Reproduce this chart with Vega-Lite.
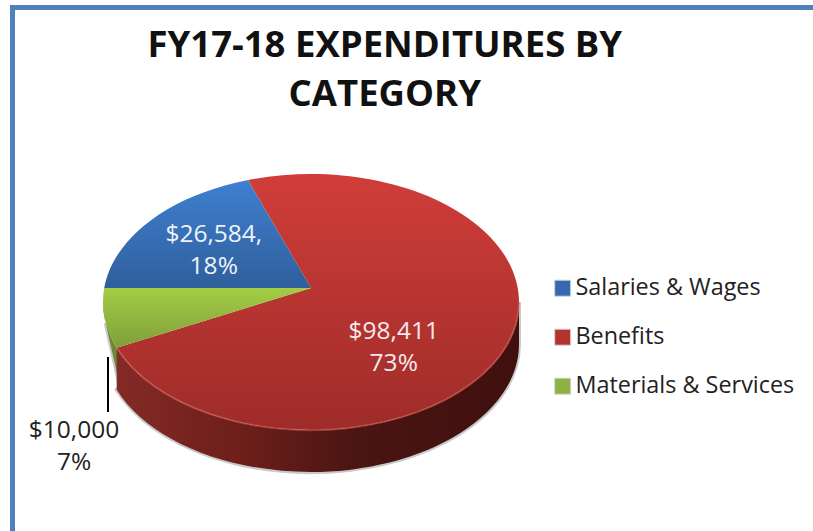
{
"$schema":"https://vega.github.io/schema/vega-lite/v6.json",
"width":800.5,"height":523.5,
"autosize":{"type":"none"},
"padding":{"left":12.5,"top":7.5,"right":0,"bottom":0},
"background":"white",
"config":{"view":{"stroke":null},"font":"Open Sans"},
"title":{"text":["FY17-18 EXPENDITURES BY","CATEGORY"],"anchor":"middle","dx":-28,"dy":114,"font":"Open Sans","fontSize":36.5,"fontWeight":"bold","color":"#111111","lineHeight":49},
"data":{"values":[
{"category":"Salaries & Wages","value":26584,"pct":18,"label":"$26,584,\n18%"},
{"category":"Benefits","value":98411,"pct":73,"label":"$98,411\n73%"},
{"category":"Materials & Services","value":10000,"pct":7,"label":"$10,000\n7%"}
]},
"layer":[
{"mark":{"type":"rule","stroke":"#4f81bd","strokeWidth":5,"strokeCap":"square"},"encoding":{"x":{"value":0}}},
{"mark":{"type":"rule","stroke":"#4f81bd","strokeWidth":5,"strokeCap":"square"},"encoding":{"y":{"value":0}}},
{"transform":[{"filter":"datum.category==='Benefits'"}],
 "mark":{"type":"point","size":4,"filled":false,"opacity":0.35,"stroke":"#666666","strokeWidth":4,"xOffset":-101.75,"yOffset":18.75,
 "shape":"M-205.3,35 L-191,99 L-194.3,101.7 A208,128 0 0 0 208,56 L208,14"}},
{"transform":[{"filter":"datum.category==='Materials & Services'"}],
 "mark":{"type":"point","size":4,"filled":true,"opacity":1,"strokeWidth":0,"xOffset":-101.75,"yOffset":18.75,
 "fill":{"gradient":"linear","x1":0,"y1":0,"x2":1,"y2":1,"stops":[{"offset":0,"color":"#6b7f3a"},{"offset":1,"color":"#6f8f2c"}]},
 "shape":"M-208,14 A208,128 0 0 0 -194.3,59.7 L-191,99 L-205.3,35 Z"}},
{"transform":[{"filter":"datum.category==='Benefits'"}],
 "mark":{"type":"point","size":4,"filled":true,"opacity":1,"strokeWidth":0,"xOffset":-101.75,"yOffset":18.75,
 "fill":{"gradient":"linear","x1":0,"y1":0,"x2":1,"y2":0,"stops":[{"offset":0,"color":"#842a26"},{"offset":0.3,"color":"#6e1f1b"},{"offset":0.6,"color":"#4a1512"},{"offset":1,"color":"#3f100e"}]},
 "shape":"M-194.3,59.7 A208,128 0 0 0 208,14 L208,56 A208,128 0 0 1 -194.3,101.7 Z"}},
{"mark":{"type":"point","size":0,"filled":true,"shape":"square","opacity":0,"strokeWidth":0},
 "encoding":{
  "color":{"field":"category","type":"nominal","title":null,
   "scale":{"domain":["Salaries & Wages","Benefits","Materials & Services"],"range":["#3568ae","#b5332f","#8eb23f"]},
   "legend":{"orient":"none","legendX":538.5,"legendY":269,"symbolType":"square","symbolSize":256,"symbolStrokeWidth":1,"symbolStrokeColor":"#cfd6dd","symbolOpacity":1,"labelFont":"Open Sans","labelFontSize":23.4,"labelColor":"#222222","labelLimit":300,"labelOffset":1,"rowPadding":24,"title":null}}
 }},
{"transform":[{"filter":"datum.category==='Salaries & Wages'"}],
 "mark":{"type":"point","size":4,"filled":true,"opacity":1,"strokeWidth":0,"xOffset":-101.75,"yOffset":18.75,
 "fill":{"gradient":"linear","x1":0,"y1":0,"x2":0,"y2":1,"stops":[{"offset":0,"color":"#3f80d0"},{"offset":1,"color":"#2f5f9c"}]},
 "shape":"M0,0 L-206.8,0 A208,128 0 0 1 -63,-108 Z"}},
{"transform":[{"filter":"datum.category==='Benefits'"}],
 "mark":{"type":"point","size":4,"filled":true,"opacity":1,"strokeWidth":0,"xOffset":-101.75,"yOffset":18.75,
 "fill":{"gradient":"linear","x1":0,"y1":0,"x2":0,"y2":1,"stops":[{"offset":0,"color":"#d03d39"},{"offset":1,"color":"#9e2c29"}]},
 "shape":"M0,0 L-63,-108 A208,128 0 1 1 -194.3,59.7 Z"}},
{"transform":[{"filter":"datum.category==='Materials & Services'"}],
 "mark":{"type":"point","size":4,"filled":true,"opacity":1,"strokeWidth":0,"xOffset":-101.75,"yOffset":18.75,
 "fill":{"gradient":"linear","x1":0,"y1":0,"x2":0,"y2":1,"stops":[{"offset":0,"color":"#a3cd45"},{"offset":1,"color":"#7f9f3a"}]},
 "shape":"M0,0 L-206.8,0 A208,128 0 0 0 -194.3,59.7 Z"}},
{"transform":[{"filter":"datum.category==='Benefits'"}],
 "mark":{"type":"point","size":4,"filled":false,"opacity":0.5,"stroke":"#d9615c","strokeWidth":2,"xOffset":-101.75,"yOffset":18.75,
 "shape":"M-194.3,59.7 A208,128 0 0 0 208,14"}},
{"transform":[{"filter":"datum.category==='Materials & Services'"}],
 "mark":{"type":"point","size":4,"filled":false,"opacity":1,"stroke":"#000000","strokeWidth":2,"xOffset":-101.75,"yOffset":18.75,
 "shape":"M-203,69 L-203,124"}},
{"transform":[{"filter":"datum.category==='Salaries & Wages'"}],
 "mark":{"type":"text","fontSize":24.5,"lineBreak":"\n","lineHeight":32,"color":"#eef3fa","baseline":"middle","dx":-199,"dy":-34.5},
 "encoding":{"text":{"field":"label"}}},
{"transform":[{"filter":"datum.category==='Benefits'"}],
 "mark":{"type":"text","fontSize":24.5,"lineBreak":"\n","lineHeight":32,"color":"#f7eaea","baseline":"middle","dx":-19,"dy":62.5},
 "encoding":{"text":{"field":"label"}}},
{"transform":[{"filter":"datum.category==='Materials & Services'"}],
 "mark":{"type":"text","fontSize":24.5,"lineBreak":"\n","lineHeight":32,"color":"#222222","baseline":"middle","dx":-338.75,"dy":161.5},
 "encoding":{"text":{"field":"label"}}}
]
}
